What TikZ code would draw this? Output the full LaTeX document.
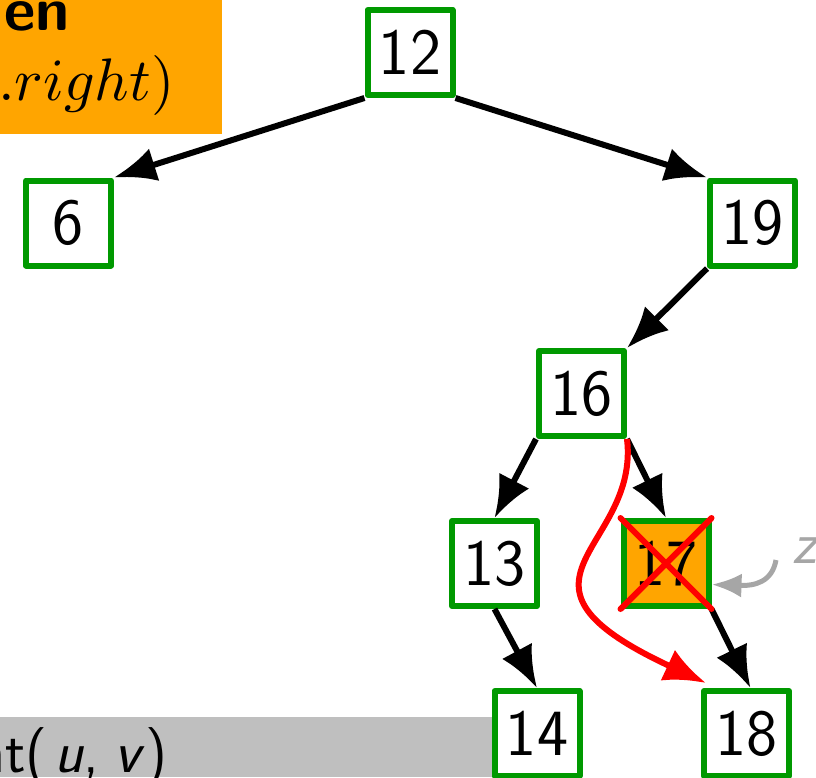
\documentclass[tikz,border=0pt]{standalone}
\usepackage{graphicx}
\usetikzlibrary{arrows.meta,calc}
\definecolor{tgreen}{RGB}{0,153,0}
\definecolor{torange}{RGB}{255,165,0}
\definecolor{tgray}{RGB}{191,191,191}
\definecolor{zgray}{RGB}{166,166,166}
\begin{document}
\begin{tikzpicture}[x=1pt,y=-1pt,
  tnode/.style={draw=tgreen, line width=6pt, fill=white, minimum width=85pt, minimum height=85pt, inner sep=0pt, font=\fontsize{66}{66}\selectfont\sffamily, line join=round},
  tedge/.style={line width=6pt, -{Latex[length=42pt,width=34pt]}},
  redline/.style={red, line width=6pt},
  bigtext/.style={anchor=base west, inner sep=0pt, font=\fontsize{60}{60}\selectfont}
]
\useasboundingbox (0,0) rectangle (816,777);
\clip (0,0) rectangle (816,777);
% top-left orange box
\fill[torange] (0,0) rectangle (222,134);
\node[bigtext, font=\fontsize{61}{61}\selectfont\sffamily\bfseries] (thenword) at (4,30) {en};
\node[bigtext] (rightword) at (-2,100) {\scalebox{6}{\normalsize$.right)$}};
% bottom-left gray box
\fill[tgray] (0,717) rectangle (494,777);
\node[bigtext, font=\fontsize{60}{60}\selectfont\sffamily] (call) at (-24,772) {nt(\hspace{0.12em}\textit{u},\hspace{0.25em}\textit{v})};
% tree nodes
\node[tnode] (n12) at (410,52.5) {12};
\node[tnode] (n6) at (68.5,223) {6};
\node[tnode] (n19) at (752.5,223) {19};
\node[tnode] (n16) at (581.5,393.5) {16};
\node[tnode] (n13) at (494.5,563.5) {13};
\node[tnode, fill=torange] (n17) at (666,563.5) {17};
\node[tnode] (n14) at (537,733.5) {14};
\node[tnode] (n18) at (746.5,733.5) {18};
% edges
\draw[tedge] (n12.south west) -- (n6.north east);
\draw[tedge] (n12.south east) -- (n19.north west);
\draw[tedge] (n19.south west) -- (n16.north east);
\draw[tedge] (n16.south west) -- (n13.north);
\draw[tedge] (n16.south east) -- (n17.north);
\draw[tedge] (n13.south) -- (n14.north);
\draw[tedge] (n17.south east) -- ($(n18.north)+(4,0)$);
% cross on 17
\draw[redline, line cap=round] (n17.north west) -- (n17.south east) (n17.north east) -- (n17.south west);
% red bypass
\draw[redline, -{Latex[length=42pt,width=34pt]}] (n16.south east) .. controls (640,550) and (485,580) .. ($(n18.north west)+(5,-5)$);
% z pointer
\node[bigtext, text=zgray, font=\fontsize{60}{60}\selectfont\sffamily\itshape] (z) at (792,563) {z};
\coordinate (zs) at (776,560);
\coordinate (zt) at ($(n17.east)+(0,21)$);
\draw[zgray, line width=5pt, -{Latex[length=30pt,width=24pt]}] (zs) .. controls (772,582) and (755,586) .. (zt);
\end{tikzpicture}
\end{document}
